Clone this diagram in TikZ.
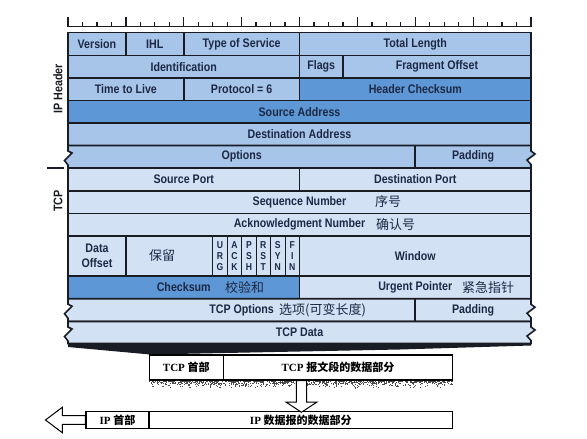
\documentclass[tikz,border=0pt]{standalone}
\usepackage{fontspec}
\setmainfont{Liberation Sans}
\newfontfamily\fldfont{Liberation Sans}[FakeStretch=0.86]
\newfontfamily\boxserif{Liberation Serif}
\newfontfamily\cjkfont{Noto Sans CJK SC}
\usetikzlibrary{calc}
\definecolor{ipblue}{HTML}{A7C4E9}
\definecolor{hiblue}{HTML}{5E97D6}
\definecolor{tcpblue}{HTML}{D3E1F5}
\definecolor{frame}{HTML}{1A1C24}
\definecolor{ink}{HTML}{1D2944}
\tikzset{
  cell/.style={draw=frame, line width=1.6pt, inner sep=0pt, text=ink,
    font=\fldfont\bfseries\fontsize{12.4}{14.5}\selectfont},
  ipcell/.style={cell, fill=ipblue},
  hicell/.style={cell, fill=hiblue},
  tcpcell/.style={cell, fill=tcpblue},
  flagcell/.style={tcpcell, line width=0.9pt, align=center,
    font=\fldfont\bfseries\fontsize{10}{11}\selectfont},
  torn/.style={draw=frame, line width=1.6pt},
  lbl/.style={text=ink, inner sep=0pt, font=\fldfont\bfseries\fontsize{12.4}{14.5}\selectfont},
  zh/.style={text=ink, inner sep=0pt, anchor=west, font=\cjkfont\fontsize{13}{13}\selectfont},
  side/.style={text=frame, rotate=90, font=\fldfont\bfseries\fontsize{12.5}{12.5}\selectfont},
  ruler/.style={draw=frame, line width=1.3pt},
  box/.style={draw=black, line width=1.1pt, fill=white, inner sep=0pt,
    font=\boxserif\bfseries\fontsize{11}{12}\selectfont},
  hollow/.style={draw=black, line width=1pt, fill=white, line join=miter}
}
% one field of the header: name, first bit, last bit, top, bottom, style, text
\newcommand{\fld}[7]{%
  \node[#6, minimum width={(#3-#2)*\bw pt}, minimum height={(#5-#4)*1pt}]
    (#1) at ({\xo+\bw*(#2+#3)/2},{(#4+#5)/2}) {#7};}
% a row with torn ends: fill, top, bottom
\newcommand{\tornrow}[3]{%
  \filldraw[torn, fill=#1] (\xo,#2) -- (\xe,#2) -- (\xe,{#2+5.5}) -- ({\xe+4},{#2+8.5})
    -- ({\xe-4},{#2+14.5}) -- (\xe,{#2+19}) -- (\xe,#3) -- (\xo,#3) -- (\xo,{#2+19.5})
    -- ({\xo-3.5},{#2+15}) -- ({\xo+4},{#2+7.5}) -- (\xo,{#2+5.5}) -- cycle;}

\begin{document}
\begin{tikzpicture}[x=1pt, y=-1pt]
  \useasboundingbox (0,0) rectangle (587,439);
  \def\bw{14.47}
  \def\xo{68}
  \def\xe{531}

  % bit ruler
  \draw[ruler] (\xo,26.5) -- (\xe,26.5);
  \foreach \b in {0,...,32} \draw[ruler] ({\xo+\bw*\b},26.5) -- ++(0,-4.5);
  \foreach \b in {0,4,...,32} \draw[ruler] ({\xo+\bw*\b},26.5) -- ++(0,-10);

  % IP header
  \fld{version}{0}{4}{32.5}{55.5}{ipcell}{Version}
  \fld{ihl}{4}{8}{32.5}{55.5}{ipcell}{IHL}
  \fld{tos}{8}{16}{32.5}{55.5}{ipcell}{Type of Service}
  \fld{totlen}{16}{32}{32.5}{55.5}{ipcell}{Total Length}
  \fld{ident}{0}{16}{55.5}{78}{ipcell}{Identification}
  \fld{flags}{16}{19}{55.5}{78}{ipcell}{Flags}
  \fld{fragoff}{19}{32}{55.5}{78}{ipcell}{Fragment Offset}
  \fld{ttl}{0}{8}{78}{100.5}{ipcell}{Time to Live}
  \fld{proto}{8}{16}{78}{100.5}{ipcell}{Protocol = 6}
  \fld{hdrsum}{16}{32}{78}{100.5}{hicell}{Header Checksum}
  \fld{srcaddr}{0}{32}{100.5}{123}{hicell}{Source Address}
  \fld{dstaddr}{0}{32}{123}{145.5}{ipcell}{Destination Address}
  \tornrow{ipblue}{145.5}{168}
  \draw[torn] ({\xo+\bw*24},145.5) -- ({\xo+\bw*24},168);
  \node[lbl] (options) at ({\xo+\bw*12},156.75) {Options};
  \node[lbl] (ippad) at ({\xo+\bw*28},156.75) {Padding};

  % TCP header
  \fill[frame] (\xo,343.5) -- (\xe,343.5) -- (\xe,345.5) -- (400,349.5) -- (150,354.5) -- (\xo,347) -- cycle;
  \fld{srcport}{0}{16}{168}{190.7}{tcpcell}{Source Port}
  \fld{dstport}{16}{32}{168}{190.7}{tcpcell}{Destination Port}
  \fld{seqnum}{0}{32}{190.7}{213.3}{tcpcell}{Sequence Number}
  \fld{acknum}{0}{32}{213.3}{236}{tcpcell}{Acknowledgment Number}
  \fld{doff}{0}{4}{236}{276}{tcpcell, align=center}{Data\\Offset}
  \fld{rsvd}{4}{10}{236}{276}{tcpcell}{}
  \foreach \f [count=\k from 10] in {U\\R\\G, A\\C\\K, P\\S\\H, R\\S\\T, S\\Y\\N, F\\I\\N}
    \fld{flag\k}{\k}{\k+1}{236}{276}{flagcell}{\f};
  \fld{window}{16}{32}{236}{276}{tcpcell}{Window}
  \fld{cksum}{0}{16}{276}{298.7}{hicell}{Checksum}
  \fld{urgptr}{16}{32}{276}{298.7}{tcpcell}{Urgent Pointer}
  \tornrow{tcpblue}{298.7}{321.5}
  \draw[torn] ({\xo+\bw*24},298.7) -- ({\xo+\bw*24},321.5);
  \node[lbl] (tcpopt) at ({\xo+\bw*12},310.1) {TCP Options};
  \node[lbl] (tcppad) at ({\xo+\bw*28},310.1) {Padding};
  \tornrow{tcpblue}{321.5}{343.5}
  \node[lbl] (tcpdata) at ({\xo+\bw*16},332.5) {TCP Data};

  \node[zh, anchor=center] (rsvdzh) at (162,256) {保留};
  \node[zh] (seqzh) at (375,202) {序号};
  \node[zh] (ackzh) at (376,224.7) {确认号};
  \node[zh] (cksumzh) at (225,287.3) {校验和};
  \node[zh] (urgzh) at (462,287.3) {紧急指针};
  \node[zh] (optzh) at (279,310.1) {选项(可变长度)};

  \node[side] (iplbl) at (58,89) {IP Header};
  \node[side] (tcplbl) at (58,201) {TCP};
  \draw[frame, line width=1.5pt] (47,168.2) -- (64,168.2);

  % encapsulation
  \pgfmathsetseed{5}
  \foreach \i in {1,...,900}
    \fill[black!70] ({149+303*rnd},{380.5+7.5*rnd*rnd}) rectangle ++(1,1);
  \node[box, minimum width=74pt, minimum height=25pt] (tcphdr) at (186.3,367.5) {TCP {\cjkfont 首部}};
  \node[box, minimum width=229.4pt, minimum height=25pt] (tcpbody) at (338,367.5) {TCP {\cjkfont 报文段的数据部分}};
  \node[box, minimum width=63pt, minimum height=16.6pt] (iphdr) at (117.5,420) {IP {\cjkfont 首部}};
  \node[box, minimum width=303.7pt, minimum height=16.6pt] (ipbody) at (300.85,420) {IP {\cjkfont 数据报的数据部分}};
  \draw[hollow] ([xshift=73.5pt]tcpbody.south west) -- ++(0,21.5) -- ++(-10.3,0) -- ++(15.5,10.2)
    -- ++(15.5,-10.2) -- ++(-10.3,0) -- ++(0,-21.5) -- cycle;
  \draw[hollow] ([yshift=4.3pt]iphdr.west) -- ++(-23,0) -- ++(0,-8.5) -- ++(-17,12.8)
    -- ++(17,12.8) -- ++(0,-8.5) -- ++(23,0) -- cycle;
\end{tikzpicture}
\end{document}
